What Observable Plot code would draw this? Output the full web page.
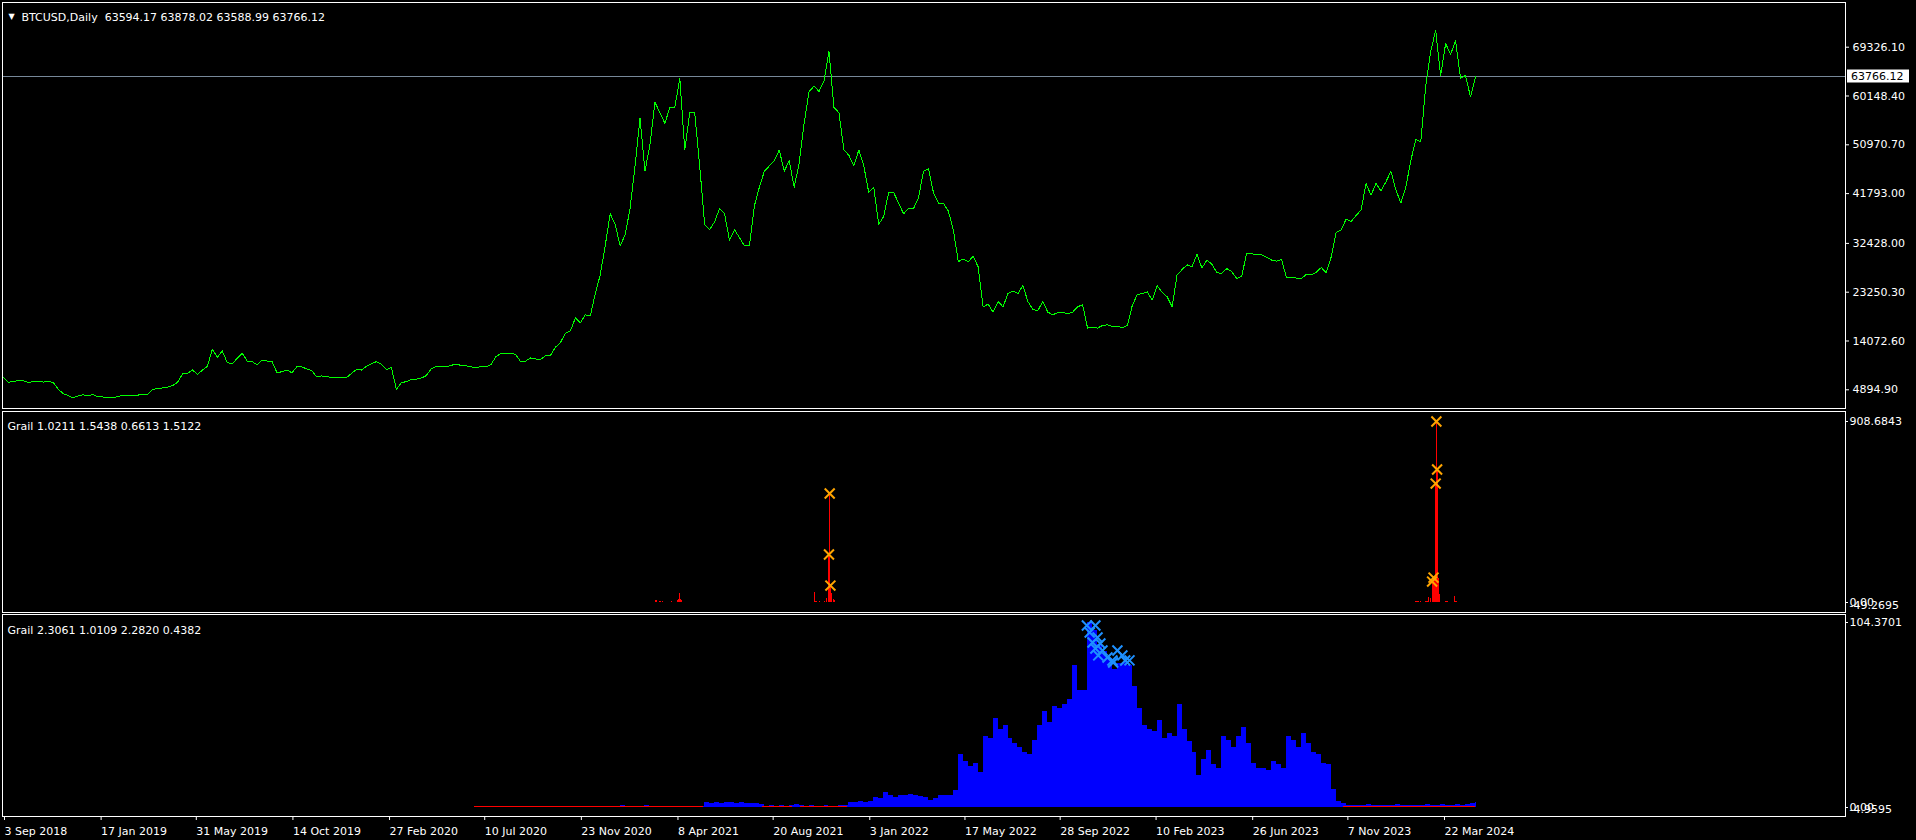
<!DOCTYPE html>
<html><head><meta charset="utf-8">
<script src="https://cdn.jsdelivr.net/npm/d3@7"></script>
<script src="https://cdn.jsdelivr.net/npm/@observablehq/plot@0.6"></script>
<style>
html,body{margin:0;padding:0;background:#000;}
#chart{position:relative;width:1916px;height:840px;background:#000;overflow:hidden;}
#chart svg{position:absolute;left:0;top:0;}
</style></head><body><div id="chart"></div>
<script>
// ---------------- data ----------------
const title1 = "BTCUSD,Daily  63594.17 63878.02 63588.99 63766.12";
const title2 = "Grail 1.0211 1.5438 0.6613 1.5122";
const title3 = "Grail 2.3061 1.0109 2.2820 0.4382";
const lastPrice = 63766.12;
const priceTicks = [69326.10, 60148.40, 50970.70, 41793.00, 32428.00, 23250.30, 14072.60, 4894.90];
const p2TickValues = [908.6843, 0];
const p2MinLabel = "-49.2695";
const p3TickValues = [104.3701, 0];
const p3MinLabel = "-4.9595";
const dateTicks = ["2018-09-03","2019-01-17","2019-05-31","2019-10-14","2020-02-27","2020-07-10","2020-11-23","2021-04-08","2021-08-20","2022-01-03","2022-05-17","2022-09-28","2023-02-10","2023-06-26","2023-11-07","2024-03-22"];

// weekly closes of the main price line, starting 3 Sep 2018
const priceStart = "2018-09-03";
const priceWeekly = [
 7200,6300,6500,6600,6600,6250,6500,6450,6350,6450,
 6300,5000,4200,3800,3400,3750,3950,3800,4000,3600,
 3550,3450,3450,3600,3900,3850,3850,3900,4000,4050,
 4950,5150,5250,5400,5700,6300,7900,7950,8650,7750,
 8600,9300,12500,11000,12200,10000,9800,10800,11800,10300,
 10200,9600,10500,10300,10200,8100,8300,8600,8100,9250,
 9200,8800,8500,7300,7500,7400,7200,7150,7300,7200,
 8000,8700,8600,9300,9800,10200,9700,8700,9100,5000,
 6200,6450,6800,6900,7100,7550,8800,9300,9300,9200,
 9500,9700,9500,9400,9200,9100,9250,9200,9600,11100,
 11700,11700,11800,11500,10200,10300,10900,10700,10600,11300,
 11400,12900,13800,15500,16000,18400,17500,19000,18800,23000,
 26500,32000,38000,36000,32000,34000,39000,47000,56000,46000,
 51000,59000,57000,55000,58000,58000,63500,50000,57000,57000,
 47000,36000,35000,36500,39000,38000,33000,35000,33500,32000,
 32000,39500,43000,46000,47000,48000,50000,46000,48000,43000,
 47500,55000,61000,62000,61000,63000,68500,58000,57000,50000,
 49000,47000,50000,47000,42000,43000,36000,37500,42000,42000,
 40000,38000,39000,39000,41000,46000,46500,42000,40000,40000,
 38500,35000,29000,29500,29000,30000,28000,20500,21000,19500,
 21500,20500,23000,23500,23000,24500,21500,20000,19800,21500,
 19500,19000,19400,19500,19200,19500,20500,20900,16500,16700,
 16500,17000,17100,16800,16800,16600,17000,20800,22800,23000,
 23300,21800,24500,23200,22400,20500,26500,27500,28400,28000,
 30400,27800,29300,28500,26900,26800,27700,27100,25800,26300,
 30600,30500,30300,30300,29800,29300,29100,29400,26000,26100,
 25900,25800,26600,26500,27000,27900,26900,29900,34500,35000,
 37000,36500,37700,38700,43700,41500,43700,42300,44000,46000,
 42500,40000,43000,48000,52000,51500,62000,68500,72500,64000,
 70000,68000,70500,63500,64000,60000,63766.12
];

// panel 2: red histogram bars and orange markers
const p2Dates = ["2021-03-09","2021-03-10","2021-03-15","2021-03-16","2021-03-18","2021-03-31",
 "2021-04-09","2021-04-10","2021-04-12","2021-04-13","2021-04-14",
 "2021-10-18","2021-10-19","2021-10-20","2021-10-21","2021-10-22","2021-10-25",
 "2021-11-01","2021-11-02","2021-11-05","2021-11-08","2021-11-09","2021-11-10","2021-11-11","2021-11-12","2021-11-15","2021-11-16",
 "2024-02-12","2024-02-13","2024-02-14","2024-02-15","2024-02-16","2024-02-19",
 "2024-02-26","2024-02-27","2024-02-28","2024-02-29","2024-03-01","2024-03-04",
 "2024-03-06","2024-03-08","2024-03-09","2024-03-11","2024-03-12","2024-03-13","2024-03-15","2024-03-16",
 "2024-03-25","2024-03-26","2024-03-27","2024-04-06","2024-04-08","2024-04-09"];
const p2Values = [8,8,4,4,4,4,
 10,15,47,15,10,
 50,6,6,6,6,6,
 5,5,20,241,547,85,25,45,15,12,
 3,3,3,3,3,3,
 7,7,7,7,25,20,
 105,125,130,597,908.6843,668,120,40,
 7,7,7,30,3,3];
const p2MarkDates = ["2021-11-09","2021-11-08","2021-11-10","2024-03-12","2024-03-13","2024-03-11","2024-03-08","2024-03-06"];
const p2MarkValues = [547,241,85,908.6843,668,597,125,105];

// panel 3: weekly blue histogram (from week 95 after 3 Sep 2018), red base strips, blue markers
const blueStartWeek = 95;
const blueEnd = "2024-05-07";
const blueWeekly = [
 0,0,0,0,0,0,0,0,0,0,0,0,0,0,0,0,0,0,0,0,0,0,0,0,0,0,
 0.8,0.5,0.8,1.0,0.8,0.5,0.3,0.8,1.0,0.8,0.6,0.8,0.5,0.3,0.6,0.8,0.5,0.8,0.6,0.8,
 2.8,2.2,2.8,2.5,2.8,2.8,2.4,2.6,2.2,2.0,2.0,1.8,
 0.8,1.0,0.5,1.0,0.8,1.2,
 1.6,1.4,
 0.8,1.0,0.6,0.8,1.0,0.8,0.6,1.0,1.2,
 2.8,3.0,3.2,3.0,3.2,
 5.5,5.0,8.5,6.5,5.5,
 7.0,6.5,7.5,7.0,6.0,5.5,
 4.0,5.0,6.5,7.0,6.8,9.7,
 30,26,23,25,20,
 40,39,50,44,46,39,36,34,31,30,
 38,46,54,48,57,56,58,61,80,66,66,
 104.37,100,92,88,84,78,81,82,80,
 68,56,46,44,43,49,39,42,40,
 58,44,37,31,18,27,32,24,22,
 40,38,34,40,45,36,25,22,22,
 21,26,24,22,40,38,34,42,36,
 31,30,25,24,10,3.5,2.5,
 1.3,1.4,1.2,1.3,1.5,1.3,1.2,1.4,1.3,1.3,1.5,1.4,1.2,1.3,1.4,1.3,1.5,1.4,1.3,1.6,1.4,1.3,1.5,1.4,1.6,2.5,3.0
];
const red3Starts = ["2020-06-27","2021-08-06","2021-09-29","2023-11-02"];
const red3Ends   = ["2021-05-15","2021-09-17","2021-12-04","2024-05-06"];
const red3Value = 0.6;
const p3MarkDates = ["2022-11-06","2022-11-10","2022-11-14","2022-11-18","2022-11-18","2022-11-21","2022-11-22","2022-11-25","2022-11-28","2022-12-05","2022-12-12","2022-12-13","2022-12-19","2022-12-26","2022-12-30","2023-01-05"];
const p3MarkValues = [102.7,98.7,93.1,102.7,89.7,95.9,85.8,92.5,88.6,84.6,82.9,81.8,88.6,85.8,82.9,83.0];

// ---------------- build tables ----------------
const day = (s) => new Date(s + "T00:00:00Z");
const priceData = priceWeekly.map((v, i) => ({date: d3.utcDay.offset(day(priceStart), 7 * i), v}));
const blueData = blueWeekly.map((v, i) => {
  const start = d3.utcDay.offset(day(priceStart), 7 * (blueStartWeek + i));
  const end = i < blueWeekly.length - 1 ? d3.utcDay.offset(start, 7) : day(blueEnd);
  return {start, end, v};
});
const red3 = red3Starts.map((s, i) => ({start: day(s), end: day(red3Ends[i]), v: red3Value}));
const p2 = p2Dates.map((d, i) => ({date: day(d), v: p2Values[i]}));
const p2m = p2MarkDates.map((d, i) => ({date: day(d), v: p2MarkValues[i]}));
const p3m = p3MarkDates.map((d, i) => ({date: day(d), v: p3MarkValues[i]}));

// ---------------- layout ----------------
const FONT = "'DejaVu Sans', sans-serif";
const xDomain = [new Date("2018-09-01T14:14:00Z"), new Date("2025-10-08T21:30:00Z")];
const fmtDate = d3.utcFormat("%-d %b %Y");
function base(marginTop, marginBottom, yDomain) {
  return {
    width: 1916, height: 840,
    marginLeft: 2, marginRight: 71, marginTop, marginBottom,
    x: {type: "utc", domain: xDomain, axis: null},
    y: {domain: yDomain, axis: null},
    style: {background: "transparent", color: "#ffffff", fontFamily: FONT, fontSize: "11px"}
  };
}
const txt = (s, o) => Plot.text([s], {text: d => d, fill: "#ffffff", textAnchor: "start", ...o});

const chart = document.getElementById("chart");

// Panel 1: price
const p1 = Plot.plot({
  ...base(2, 432, [1378, 77732]),
  marks: [
    Plot.ruleY([lastPrice], {stroke: "#778899", shapeRendering: "crispEdges"}),
    Plot.line(priceData, {x: "date", y: "v", stroke: "#00ff00", strokeWidth: 1, shapeRendering: "crispEdges"}),
    Plot.frame({stroke: "#ffffff"}),
    Plot.axisY({anchor: "right", ticks: priceTicks, tickFormat: d => d.toFixed(2), tickSize: 3, tickPadding: 4, label: null}),
    txt("▼", {frameAnchor: "top-left", dx: 9, dy: 10.5, fontSize: 8, textAnchor: "middle"}),
    txt(title1, {frameAnchor: "top-left", dx: 19, dy: 10.7})
  ]
});
chart.appendChild(p1);
{
  const yPx = Math.round(p1.scale("y").apply(lastPrice));
  const g = d3.select(p1).append("g");
  g.append("rect").attr("x", 1847).attr("y", yPx - 6.5).attr("width", 62).attr("height", 13).attr("fill", "#ffffff");
  g.append("text").attr("x", 1851).attr("y", yPx).attr("dy", "0.35em").attr("text-anchor", "start")
    .attr("fill", "#000000").attr("font-family", FONT).attr("font-size", 11).text(lastPrice.toFixed(2));
}

// Panel 2
const pl2 = Plot.plot({
  ...base(411, 228, [-50.2, 958.9]),
  marks: [
    Plot.ruleX(p2, {x: "date", y1: 0, y2: "v", stroke: "#ff0000", strokeWidth: 1, shapeRendering: "crispEdges"}),
    Plot.dot(p2m, {x: "date", y: "v", symbol: "times", r: 4.6, stroke: "#ffa500", strokeWidth: 2}),
    Plot.frame({stroke: "#ffffff"}),
    Plot.axisY({anchor: "right", ticks: p2TickValues, tickFormat: d => d === 0 ? "0.00" : d.toFixed(4), tickSize: 2, tickPadding: 2, label: null}),
    txt(p2MinLabel, {x: xDomain[1], y: 0, dx: 4, dy: 2.5}),
    txt(title2, {frameAnchor: "top-left", dx: 5, dy: 11})
  ]
});
chart.appendChild(pl2);

// Panel 3
const pl3 = Plot.plot({
  ...base(614, 24, [-5.08, 108.88]),
  marks: [
    Plot.rect(blueData, {x1: "start", x2: "end", y1: 0, y2: "v", fill: "#0000ff", shapeRendering: "crispEdges"}),
    Plot.rect(red3, {x1: "start", x2: "end", y1: 0, y2: "v", fill: "#ff0000", shapeRendering: "crispEdges"}),
    Plot.dot(p3m, {x: "date", y: "v", symbol: "times", r: 4.6, stroke: "#1e90ff", strokeWidth: 2}),
    Plot.frame({stroke: "#ffffff"}),
    Plot.axisY({anchor: "right", ticks: p3TickValues, tickFormat: d => d === 0 ? "0.00" : d.toFixed(4), tickSize: 2, tickPadding: 2, label: null}),
    txt(p3MinLabel, {x: xDomain[1], y: 0, dx: 4, dy: 1.5}),
    Plot.axisX({anchor: "bottom", ticks: dateTicks.map(day), tickFormat: fmtDate, tickSize: 4, tickPadding: 7, textAnchor: "start", dx: 1, label: null}),
    txt(title3, {frameAnchor: "top-left", dx: 5, dy: 12})
  ]
});
chart.appendChild(pl3);
</script>
</body></html>
